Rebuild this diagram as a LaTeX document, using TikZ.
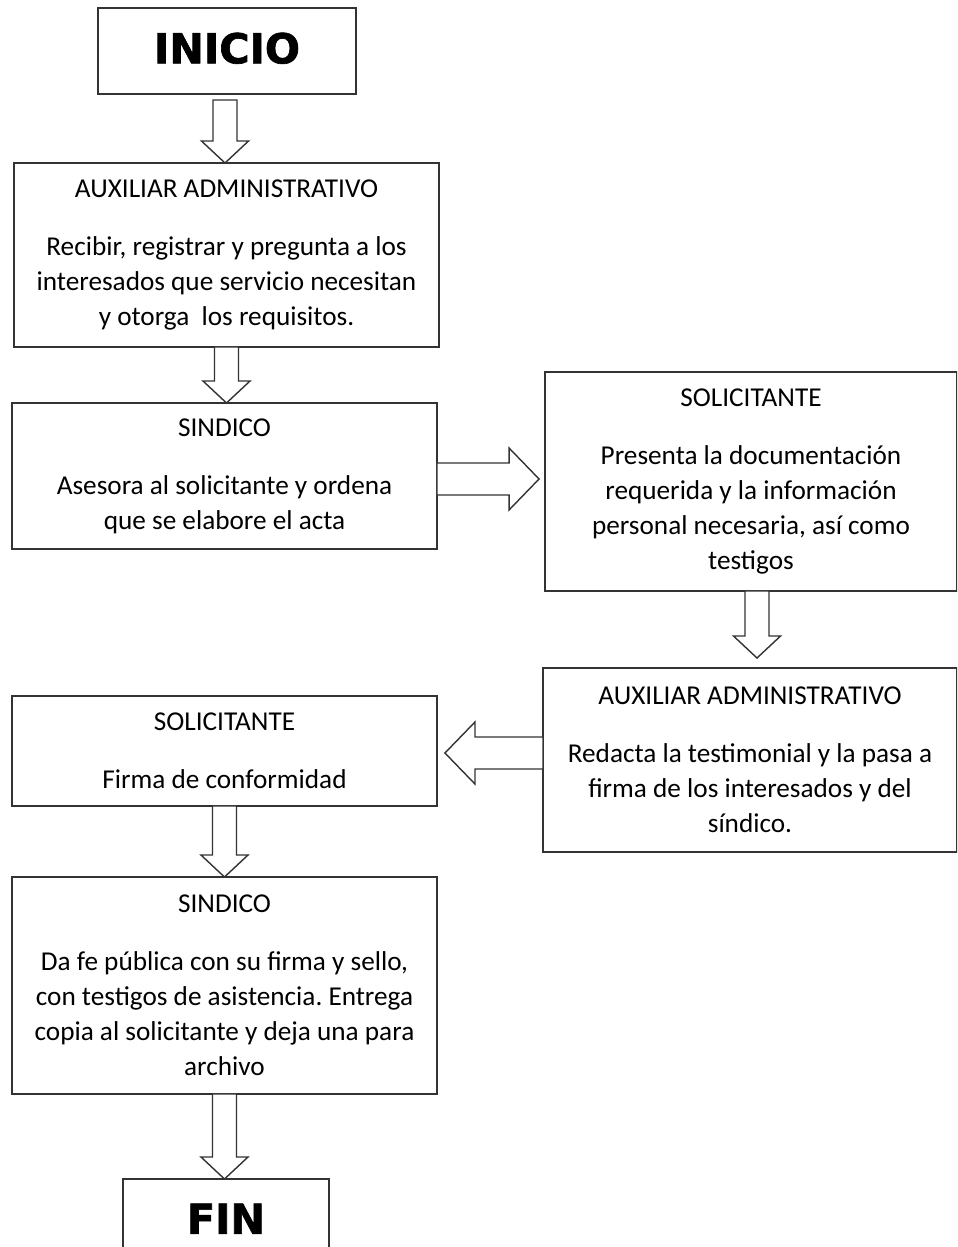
\documentclass[tikz,border=0pt]{standalone}
\usepackage{fontspec}
\setmainfont{Carlito}
\newfontfamily\titulofont[BoldFeatures={FakeBold=1.6}]{DejaVu Sans}
\usetikzlibrary{calc}
\frenchspacing

% flecha de bloque vertical (hacia abajo)
\newcommand{\flechav}[2]{%
	\draw[bloque] let \p1=(#1), \p2=(#2) in
	(\x1-0.24cm,\y1) -- (\x1-0.24cm,\y2+0.44cm) -- (\x1-0.47cm,\y2+0.44cm) -- (\x1,\y2)
	-- (\x1+0.47cm,\y2+0.44cm) -- (\x1+0.24cm,\y2+0.44cm) -- (\x1+0.24cm,\y1) -- cycle;}

% flecha de bloque horizontal (hacia la derecha)
\newcommand{\flechader}[2]{%
	\draw[bloque] let \p1=(#1), \p2=(#2) in
	(\x1,\y1-0.32cm) -- (\x2-0.6cm,\y1-0.32cm) -- (\x2-0.6cm,\y1-0.62cm) -- (\x2,\y1)
	-- (\x2-0.6cm,\y1+0.62cm) -- (\x2-0.6cm,\y1+0.32cm) -- (\x1,\y1+0.32cm) -- cycle;}

% flecha de bloque horizontal (hacia la izquierda)
\newcommand{\flechaizq}[2]{%
	\draw[bloque] let \p1=(#1), \p2=(#2) in
	(\x1,\y1-0.32cm) -- (\x2+0.6cm,\y1-0.32cm) -- (\x2+0.6cm,\y1-0.62cm) -- (\x2,\y1)
	-- (\x2+0.6cm,\y1+0.62cm) -- (\x2+0.6cm,\y1+0.32cm) -- (\x1,\y1+0.32cm) -- cycle;}

\tikzset{
	caja/.style={draw=black!80, line width=0.8pt, rectangle, inner sep=0pt, outer sep=0pt,
		align=center, font=\fontsize{15.5pt}{19.9pt}\selectfont},
	extremo/.style={caja, font=\titulofont\bfseries\fontsize{23.5pt}{26pt}\selectfont},
	bloque/.style={draw=black!80, line width=0.8pt, fill=white, line join=miter}
}

\begin{document}
\begin{tikzpicture}[x=0.02cm, y=-0.02cm]

		\useasboundingbox (0,0) rectangle (957,1247);
		\clip (0,0) rectangle (957,1247);

		% Cajas del procedimiento
		\node[extremo, minimum width=5.16cm, minimum height=1.72cm] (inicio) at (227,51)
		{\raisebox{0.12cm}{INICIO}};

		\node[caja, minimum width=8.5cm, minimum height=3.68cm] (aux1) at (226.5,255)
		{AUXILIAR ADMINISTRATIVO\\[13pt]
		Recibir, registrar y pregunta a los\\
		interesados que servicio necesitan\\
		y otorga\ \ los requisitos.};

		\node[caja, minimum width=8.5cm, minimum height=2.92cm] (sind1) at (224.5,476)
		{SINDICO\\[13pt]
		Asesora al solicitante y ordena\\
		que se elabore el acta};

		\node[caja, minimum width=8.24cm, minimum height=4.38cm] (solr) at (751,481.5)
		{SOLICITANTE\\[13pt]
		Presenta la documentación\\
		requerida y la información\\
		personal necesaria, así como\\
		testigos};

		\node[caja, minimum width=8.28cm, minimum height=3.68cm] (aux2) at (750,760)
		{AUXILIAR ADMINISTRATIVO\\[13pt]
		Redacta la testimonial y la pasa a\\
		firma de los interesados y del\\
		síndico.};

		\node[caja, minimum width=8.5cm, minimum height=2.2cm] (soll) at (224.5,751)
		{SOLICITANTE\\[13pt]
		Firma de conformidad};

		\node[caja, minimum width=8.5cm, minimum height=4.34cm] (sind2) at (224.5,985.5)
		{SINDICO\\[13pt]
		Da fe pública con su firma y sello,\\
		con testigos de asistencia. Entrega\\
		copia al solicitante y deja una para\\
		archivo};

		\node[extremo, minimum width=4.12cm, minimum height=1.72cm] (fin) at (226,1222)
		{\raisebox{0.13cm}{FIN}};

		% Flechas de bloque entre cajas
		\flechav{$(inicio.south)+(-2,6)$}{aux1.north}
		\flechav{aux1.south}{sind1.north}
		\flechader{$(sind1.east)+(0,3)$}{$(solr.west)+(-6,0)$}
		\flechav{$(solr.south)+(6,0)$}{$(aux2.north)+(0,-10)$}
		\flechaizq{$(aux2.west)+(0,-7)$}{$(soll.east)+(8,0)$}
		\flechav{soll.south}{sind2.north}
		\flechav{sind2.south}{fin.north}

	\end{tikzpicture}
\end{document}
